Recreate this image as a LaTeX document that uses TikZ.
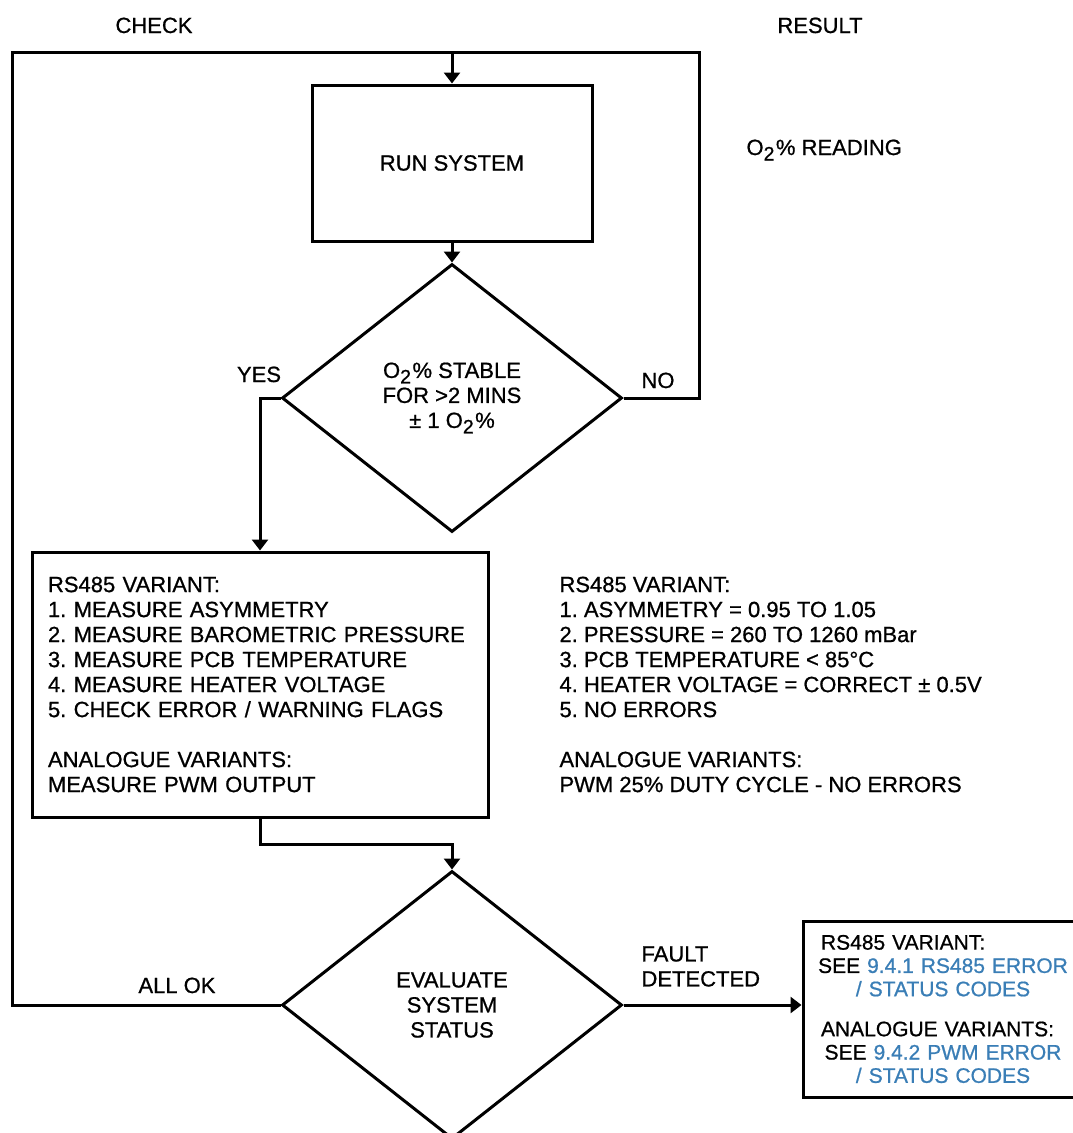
\documentclass[tikz,border=0pt]{standalone}
\usepackage{fontspec}
\setmainfont{Liberation Sans}[FakeBold=0.8]
\usetikzlibrary{shapes.geometric,arrows.meta}
\definecolor{linkblue}{HTML}{3A7EB6}
\newcommand{\Otwo}{O\raisebox{-5.5pt}{\fontsize{19.5pt}{19.5pt}\selectfont 2}\hspace{1.5pt}}
\begin{document}
\frenchspacing
\begin{tikzpicture}[x=1pt,y=-1pt,
  line width=3pt,
  every node/.style={font=\frenchspacing\fontsize{22pt}{25pt}\selectfont, inner sep=0pt},
  box/.style={draw, rectangle, line width=3pt},
  dec/.style={draw, diamond, minimum width=340pt, minimum height=268pt, line width=3pt, align=center},
  arr/.style={-{Triangle[width=16pt,length=11pt]}},
  lbl/.style={text=black}
]
\useasboundingbox (0,0) rectangle (1073,1133);
\clip (0,0) rectangle (1073,1133);

% nodes
\node[box, minimum width=280pt, minimum height=156pt] (run) at (452,163) {RUN SYSTEM};
\node[dec] (dia1) at (452,398) {\Otwo\% STABLE\\FOR >2 MINS\\± 1 \Otwo\%};
\node[box, minimum width=456pt, minimum height=265pt, text width=424pt, align=left] (meas) at (260,684.5)
  {RS485 VARIANT:\\1. MEASURE ASYMMETRY\\2. MEASURE BAROMETRIC PRESSURE\\3. MEASURE PCB TEMPERATURE\\4. MEASURE HEATER VOLTAGE\\5. CHECK ERROR / WARNING FLAGS\\[25pt]ANALOGUE VARIANTS:\\MEASURE PWM OUTPUT};
\node[lbl, anchor=west, align=left] (crit) at (558,684.5)
  {RS485 VARIANT:\\1. ASYMMETRY = 0.95 TO 1.05\\2. PRESSURE = 260 TO 1260 mBar\\3. PCB TEMPERATURE < 85°C\\4. HEATER VOLTAGE = CORRECT ± 0.5V\\5. NO ERRORS\\[25pt]ANALOGUE VARIANTS:\\PWM 25\% DUTY CYCLE - NO ERRORS};
\node[dec] (dia2) at (452,1005) {EVALUATE\\SYSTEM\\STATUS};
\node[box, minimum width=280pt, minimum height=176pt, text width=264pt, align=center,
      font=\frenchspacing\fontsize{21pt}{23.3pt}\selectfont] (fault) at (943,1009)
  {\hspace*{10pt}RS485 VARIANT:\hskip0pt plus 1filll\null\\SEE \textcolor{linkblue}{9.4.1 RS485 ERROR}\\\textcolor{linkblue}{/ STATUS CODES}\\[16.7pt]\hspace*{10pt}ANALOGUE VARIANTS:\hskip0pt plus 1filll\null\\SEE \textcolor{linkblue}{9.4.2 PWM ERROR}\\\textcolor{linkblue}{/ STATUS CODES}};

% labels
\node[lbl, anchor=base] (check) at (154,33) {CHECK};
\node[lbl, anchor=base] (result) at (820,33) {RESULT};
\node[lbl, anchor=base west] (reading) at (745,155) {\Otwo\% READING};
\node[lbl, anchor=base] (yes) at (259,382) {YES};
\node[lbl, anchor=base west] (no) at (640,388) {NO};
\node[lbl, anchor=base] (allok) at (177,993) {ALL OK};
\node[lbl, anchor=west, align=left] (faultlbl) at (640,966.5) {FAULT\\DETECTED};

% loop coordinates
\coordinate (loopL) at (12,52);
\coordinate (loopM) at (452,52);
\coordinate (loopR) at (699,52);

% connectors
\draw[arr] (dia2.west) -| (loopL) -- (loopM) -- (run.north);
\draw (dia1.east) -| (loopR) -- (loopM);
\draw[arr] (run.south) -- (dia1.north);
\draw[arr] (dia1.west) -| (meas.north);
\draw[arr] (meas.south) -- ++(0,26) -| (dia2.north);
\draw[arr] (dia2.east) -- (dia2.east -| fault.west);
\end{tikzpicture}
\end{document}
